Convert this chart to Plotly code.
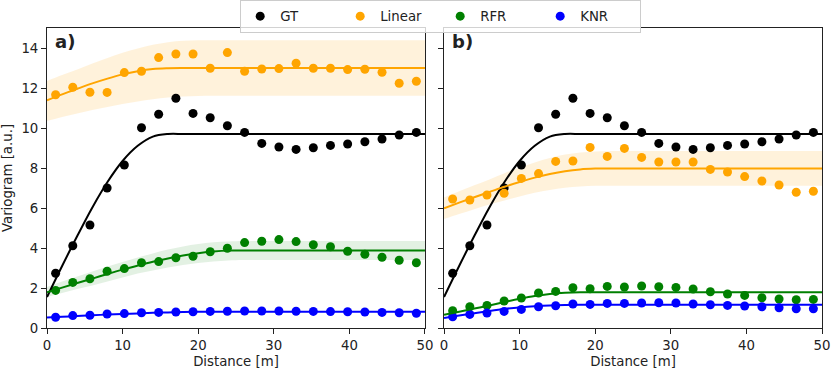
import plotly.graph_objects as go
from plotly.subplots import make_subplots

# lag centres [m]
dist = [1.14, 3.41, 5.68, 7.95, 10.23, 12.50, 14.77, 17.05, 19.32, 21.59, 23.86,
        26.14, 28.41, 30.68, 32.95, 35.23, 37.50, 39.77, 42.05, 44.32, 46.59, 48.86]

# experimental variograms, panel a)
gt = [2.74, 4.11, 5.15, 7.00, 8.15, 10.01, 10.69, 11.49, 10.73, 10.51, 10.11,
      9.78, 9.23, 9.05, 8.93, 9.01, 9.13, 9.20, 9.31, 9.45, 9.65, 9.78]
lin_a = [11.66, 12.04, 11.79, 11.78, 12.77, 12.84, 13.52, 13.70, 13.70, 12.99, 13.77,
         12.84, 12.95, 12.97, 13.24, 12.99, 12.99, 12.92, 12.94, 12.79, 12.24, 12.34]
rfr_a = [1.88, 2.28, 2.46, 2.84, 2.97, 3.26, 3.32, 3.51, 3.59, 3.81, 3.99,
         4.27, 4.34, 4.42, 4.32, 4.16, 4.06, 3.84, 3.69, 3.54, 3.39, 3.26]
knr_a = [0.54, 0.62, 0.64, 0.70, 0.72, 0.76, 0.78, 0.80, 0.81, 0.83, 0.84,
         0.85, 0.85, 0.85, 0.84, 0.83, 0.82, 0.81, 0.80, 0.78, 0.76, 0.74]

# experimental variograms, panel b)
lin_b = [6.45, 6.40, 6.65, 6.74, 7.48, 7.72, 8.33, 8.35, 9.03, 8.58, 8.98,
         8.53, 8.30, 8.30, 8.30, 7.93, 7.80, 7.57, 7.35, 7.15, 6.79, 6.84]
rfr_b = [0.86, 1.06, 1.13, 1.35, 1.50, 1.75, 1.83, 2.01, 1.96, 2.08, 2.05,
         2.10, 2.06, 2.03, 1.95, 1.81, 1.70, 1.63, 1.51, 1.45, 1.41, 1.43]
knr_b = [0.56, 0.68, 0.75, 0.83, 0.93, 1.06, 1.11, 1.20, 1.18, 1.23, 1.23,
         1.25, 1.26, 1.25, 1.20, 1.16, 1.13, 1.10, 1.06, 1.01, 0.96, 0.96]

# fitted models
fx = [0, 2, 4, 6, 8, 10, 12, 14, 16, 18, 20, 22, 24, 26, 30, 40, 50]
gt_fit = [1.55, 3.10, 4.60, 6.03, 7.30, 8.35, 9.11, 9.57, 9.70, 9.70, 9.70, 9.70, 9.70, 9.70, 9.70, 9.70, 9.70]

lin_a_fit = [11.38, 11.68, 11.96, 12.23, 12.47, 12.68, 12.84, 12.95, 12.99, 13.0, 13.0, 13.0, 13.0, 13.0, 13.0, 13.0, 13.0]
lin_a_lo = [10.35, 10.55, 10.73, 10.90, 11.05, 11.20, 11.33, 11.44, 11.52, 11.58, 11.60, 11.61, 11.61, 11.61, 11.61, 11.61, 11.61]
lin_a_hi = [12.35, 12.65, 12.93, 13.22, 13.50, 13.76, 13.98, 14.16, 14.29, 14.36, 14.39, 14.39, 14.39, 14.39, 14.39, 14.39, 14.39]
rfr_a_fit = [1.78, 2.02, 2.25, 2.47, 2.70, 2.92, 3.12, 3.31, 3.48, 3.62, 3.74, 3.82, 3.87, 3.88, 3.88, 3.88, 3.88]
rfr_a_lo = [1.55, 1.75, 1.95, 2.12, 2.32, 2.52, 2.72, 2.88, 3.03, 3.15, 3.25, 3.32, 3.38, 3.40, 3.40, 3.40, 3.40]
rfr_a_hi = [2.05, 2.32, 2.58, 2.82, 3.07, 3.30, 3.52, 3.73, 3.92, 4.08, 4.20, 4.29, 4.33, 4.35, 4.35, 4.35, 4.35]
knr_a_fit = [0.52, 0.56, 0.60, 0.64, 0.67, 0.70, 0.73, 0.76, 0.78, 0.80, 0.81, 0.81, 0.81, 0.81, 0.81, 0.81, 0.81]

lin_b_fit = [5.99, 6.27, 6.54, 6.80, 7.06, 7.30, 7.52, 7.70, 7.84, 7.93, 7.97, 7.98, 7.98, 7.98, 7.98, 7.98, 7.98]
lin_b_lo = [5.45, 5.70, 5.94, 6.17, 6.38, 6.58, 6.76, 6.90, 7.01, 7.08, 7.11, 7.11, 7.11, 7.11, 7.11, 7.11, 7.11]
lin_b_hi = [6.53, 6.84, 7.14, 7.43, 7.74, 8.02, 8.28, 8.50, 8.67, 8.78, 8.83, 8.85, 8.85, 8.85, 8.85, 8.85, 8.85]
rfr_b_fit = [0.66, 0.81, 0.97, 1.13, 1.30, 1.46, 1.60, 1.70, 1.76, 1.79, 1.79, 1.79, 1.79, 1.79, 1.79, 1.79, 1.79]
knr_b_fit = [0.50, 0.62, 0.74, 0.85, 0.95, 1.03, 1.09, 1.13, 1.15, 1.16, 1.16, 1.16, 1.16, 1.16, 1.16, 1.16, 1.16]

BLACK, ORANGE, GREEN, BLUE = "#000000", "#ffa500", "#008000", "#0000ff"
FONT = "DejaVu Sans"

fig = make_subplots(rows=1, cols=2, shared_yaxes=True)


def band(lo, hi, fill, col):
    fig.add_trace(go.Scatter(x=fx, y=lo, mode="lines", line=dict(width=0, shape="spline"),
                             showlegend=False, hoverinfo="skip"), row=1, col=col)
    fig.add_trace(go.Scatter(x=fx, y=hi, mode="lines", line=dict(width=0, shape="spline"),
                             fill="tonexty", fillcolor=fill, showlegend=False, hoverinfo="skip"),
                  row=1, col=col)


def dots(y, color, name, col):
    fig.add_trace(go.Scatter(x=dist, y=y, mode="markers", name=name, legendgroup=name,
                             marker=dict(color=color, size=9), showlegend=(col == 1)),
                  row=1, col=col)


def fit(y, color, col):
    fig.add_trace(go.Scatter(x=fx, y=y, mode="lines", line=dict(color=color, width=2, shape="spline"),
                             showlegend=False), row=1, col=col)


# bands underneath
band(lin_a_lo, lin_a_hi, "rgba(255,165,0,0.14)", 1)
band(rfr_a_lo, rfr_a_hi, "rgba(0,128,0,0.11)", 1)
band(lin_b_lo, lin_b_hi, "rgba(255,165,0,0.14)", 2)

# points, then model lines on top (matplotlib z-order)
for col, series in [(1, [gt, lin_a, rfr_a, knr_a]), (2, [gt, lin_b, rfr_b, knr_b])]:
    for y, c, n in zip(series, [BLACK, ORANGE, GREEN, BLUE], ["GT", "Linear", "RFR", "KNR"]):
        dots(y, c, n, col)

for col, fits in [(1, [gt_fit, lin_a_fit, rfr_a_fit, knr_a_fit]), (2, [gt_fit, lin_b_fit, rfr_b_fit, knr_b_fit])]:
    for y, c in zip(fits, [BLACK, ORANGE, GREEN, BLUE]):
        fit(y, c, col)

axis_style = dict(showline=True, linecolor="#222", linewidth=1, mirror=True, ticks="outside",
                  ticklen=5, tickcolor="#222", showgrid=False, zeroline=False, automargin=False,
                  tickfont=dict(size=13.3, color="#222"))

fig.update_xaxes(range=[0, 50], dtick=10, title=dict(text="Distance [m]", standoff=4,
                 font=dict(size=13.3, color="#222")), **axis_style)
fig.update_yaxes(range=[0, 15], tickvals=[0, 2, 4, 6, 8, 10, 12, 14], **axis_style)
fig.update_xaxes(domain=[0, 0.4877], row=1, col=1)
fig.update_xaxes(domain=[0.5123, 1], row=1, col=2)
fig.update_yaxes(title=dict(text="Variogram [a.u.]", font=dict(size=13.3, color="#222"), standoff=6),
                 row=1, col=1)
fig.update_yaxes(showticklabels=False, row=1, col=2)

for lab, xr, yr in [("a)", "x domain", "y domain"), ("b)", "x2 domain", "y2 domain")]:
    fig.add_annotation(text=f"<b>{lab}</b>", xref=xr, yref=yr, x=0, y=1, xanchor="left", yanchor="top",
                       xshift=6, yshift=-1, showarrow=False, font=dict(size=18, color="#222", family=FONT))

fig.update_layout(
    width=831, height=369,
    margin=dict(l=47, r=9, t=28, b=41, autoexpand=False),
    paper_bgcolor="white", plot_bgcolor="white",
    font=dict(family=FONT, size=13.3, color="#222"),
    legend=dict(orientation="h", xref="paper", x=0.508, xanchor="center",
                yref="container", y=1.0, yanchor="top",
                bgcolor="rgba(255,255,255,0.8)", bordercolor="#cccccc", borderwidth=1,
                entrywidth=55, font=dict(size=13.3)),
)

# page body has an 8px default margin; drop it so the figure sits at the window corner
fig.write_html("out.html", config={"displayModeBar": False},
               post_script="document.body.style.margin='0';")
